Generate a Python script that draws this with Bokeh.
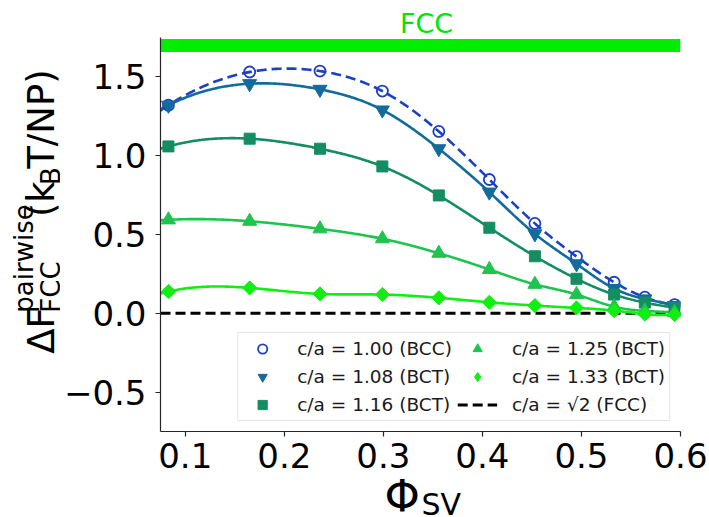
import numpy as np
from bokeh.plotting import figure
from bokeh.models import Label, Legend, LegendItem, FixedTicker, Range1d
from bokeh.layouts import column, row
from bokeh.embed import file_html
from bokeh.resources import INLINE

# ---------------- data ----------------
phi = [0.083, 0.165, 0.236, 0.299, 0.356, 0.407, 0.453, 0.495, 0.533, 0.564, 0.594]
dF_100 = [1.320, 1.531, 1.537, 1.410, 1.154, 0.849, 0.570, 0.360, 0.197, 0.102, 0.055]
dF_108 = [1.320, 1.457, 1.421, 1.290, 1.044, 0.769, 0.504, 0.314, 0.157, 0.091, 0.049]
dF_116 = [1.059, 1.108, 1.044, 0.932, 0.748, 0.543, 0.362, 0.219, 0.119, 0.068, 0.036]
dF_125 = [0.593, 0.584, 0.536, 0.473, 0.381, 0.278, 0.184, 0.119, 0.042, 0.015, 0.005]
dF_133 = [0.138, 0.161, 0.123, 0.119, 0.098, 0.070, 0.049, 0.034, 0.017, -0.005, -0.008]
fcc_ref = [0.0, 0.0]
fcc_phi = [0.075, 0.6]
fcc_band_y = 1.70

series_labels = ["c/a = 1.00 (BCC)", "c/a = 1.08 (BCT)", "c/a = 1.16 (BCT)",
                 "c/a = 1.25 (BCT)", "c/a = 1.33 (BCT)"]
fcc_label = "c/a = \u221a2 (FCC)"

x_ticks = [0.1, 0.2, 0.3, 0.4, 0.5, 0.6]
x_tick_labels = ["0.1", "0.2", "0.3", "0.4", "0.5", "0.6"]
y_ticks = [-0.5, 0.0, 0.5, 1.0, 1.5]
y_tick_labels = ["\u22120.5", "0.0", "0.5", "1.0", "1.5"]


def spline(xk, yk, xs):
    """not-a-knot cubic spline through the data points (with end extrapolation)"""
    xk = np.asarray(xk, float)
    yk = np.asarray(yk, float)
    n = len(xk) - 1
    h = np.diff(xk)
    A = np.zeros((n + 1, n + 1))
    b = np.zeros(n + 1)
    A[0, 0], A[0, 1], A[0, 2] = h[1], -(h[0] + h[1]), h[0]
    A[n, n - 2], A[n, n - 1], A[n, n] = h[n - 1], -(h[n - 2] + h[n - 1]), h[n - 2]
    for i in range(1, n):
        A[i, i - 1] = h[i - 1]
        A[i, i] = 2 * (h[i - 1] + h[i])
        A[i, i + 1] = h[i]
        b[i] = 6 * ((yk[i + 1] - yk[i]) / h[i] - (yk[i] - yk[i - 1]) / h[i - 1])
    M = np.linalg.solve(A, b)
    idx = np.clip(np.searchsorted(xk, xs) - 1, 0, n - 1)
    x0 = xk[idx]
    x1 = xk[idx + 1]
    hh = x1 - x0
    return (M[idx] * (x1 - xs) ** 3 / (6 * hh) + M[idx + 1] * (xs - x0) ** 3 / (6 * hh)
            + (yk[idx] / hh - M[idx] * hh / 6) * (x1 - xs)
            + (yk[idx + 1] / hh - M[idx + 1] * hh / 6) * (xs - x0))


FONT = "DejaVu Sans"


def blank(w, h):
    f = figure(width=w, height=h, x_range=Range1d(0, w), y_range=Range1d(0, h),
               output_backend="svg", toolbar_location=None,
               x_axis_location=None, y_axis_location=None, min_border=0)
    f.outline_line_color = None
    for g in f.grid:
        g.visible = False
    return f


def txt(fig, x, y, text, size, color="black", angle=0.0, align="left"):
    fig.add_layout(Label(x=x, y=y, text=text, angle=angle, text_font=FONT,
                         text_font_size=size, text_align=align,
                         text_baseline="middle", text_color=color))


# ---------------- main plot ----------------
p = figure(width=649, height=441, output_backend="svg", toolbar_location=None,
           x_range=Range1d(0.075, 0.6), y_range=Range1d(-0.75, 1.75),
           min_border_left=100, min_border_right=29, min_border_top=0,
           min_border_bottom=47)
p.outline_line_color = None
p.xgrid.visible = False
p.ygrid.visible = False

for ax in (p.xaxis[0], p.yaxis[0]):
    ax.axis_line_color = "#262626"
    ax.axis_line_width = 1.2
    ax.major_tick_line_color = "#262626"
    ax.major_tick_line_width = 1.2
    ax.major_tick_out = 5
    ax.major_tick_in = 0
    ax.minor_tick_line_color = None
    ax.major_label_text_font = FONT
    ax.major_label_text_font_size = "34px"
    ax.major_label_text_color = "black"
p.xaxis.ticker = FixedTicker(ticks=x_ticks)
p.xaxis.major_label_overrides = dict(zip(x_ticks, x_tick_labels))
p.xaxis.major_label_standoff = 6
p.yaxis.ticker = FixedTicker(ticks=y_ticks)
p.yaxis.major_label_overrides = dict(zip(y_ticks, y_tick_labels))
p.yaxis.major_label_standoff = 9

# FCC band at the top
p.line(fcc_phi, [fcc_band_y, fcc_band_y], line_color="#00ee00", line_width=13,
       line_cap="butt")

# reference line
r_fcc = p.line(fcc_phi, fcc_ref, line_color="black", line_width=3, line_dash="10 5")

xs = np.linspace(0.075, 0.6, 400)
colors = ["#1c3fc4", "#136b9b", "#148d62", "#1fc44e", "#11ee11"]
series = [dF_100, dF_108, dF_116, dF_125, dF_133]
markers = ["circle", "inverted_triangle", "square", "triangle", "square"]
sizes = [11, 14, 11, 14, 10]
angles = [0, 0, 0, 0, np.pi / 4]

for k, (ys, c) in enumerate(zip(series, colors)):
    curve = spline(phi, ys, xs)
    p.line(xs, curve, line_color=c, line_width=2.6,
           line_dash="10 5" if k == 0 else "solid")

# diamond-shaped points used for the legend entry (fully covered by the rotated squares)
diamond_legend = p.scatter(phi, dF_133, marker="diamond", size=11,
                           fill_color=colors[4], line_color=colors[4])

pt_renderers = []
for k, (ys, c) in enumerate(zip(series, colors)):
    if k == 0:
        r = p.scatter(phi, ys, marker="circle", size=sizes[k], fill_color=None,
                      line_color=c, line_width=1.8)
    else:
        r = p.scatter(phi, ys, marker=markers[k], size=sizes[k], angle=angles[k],
                      fill_color=c, line_color=c, line_width=1)
    pt_renderers.append(r)

legend_renderers = pt_renderers[:4] + [diamond_legend]
items = [LegendItem(label=l, renderers=[r]) for l, r in zip(series_labels, legend_renderers)]
items.append(LegendItem(label=fcc_label, renderers=[r_fcc]))
legend = Legend(items=items, location="bottom_right", orientation="vertical", ncols=2)
legend.label_text_font = FONT
legend.label_text_font_size = "18.5px"
legend.label_text_color = "#1a1a1a"
legend.glyph_width = 40
legend.glyph_height = 23
legend.label_height = 23
legend.label_standoff = 15
legend.spacing = 5
legend.padding = 4
legend.margin = 10
legend.border_line_color = "#cccccc"
legend.border_line_width = 1
legend.background_fill_alpha = 0.85
p.add_layout(legend)

# ---------------- y-axis label strip (page x 0..60, page y 37..478) ----------------
L = blank(60, 441)
R90 = np.pi / 2
txt(L, 41, 478 - 391, "\u0394F", "37px", angle=R90)
txt(L, 23, 478 - 345, "pairwise", "26px", angle=R90)
txt(L, 50.5, 478 - 345, "FCC", "26px", angle=R90)
txt(L, 41, 478 - 238, "(k", "37px", angle=R90)
txt(L, 50.5, 478 - 202, "B", "26px", angle=R90)
txt(L, 41, 478 - 184, "T/NP)", "37px", angle=R90)

# ---------------- top strip with the phase name (page y 0..37) ----------------
T = blank(709, 37)
txt(T, 426, 37 - 23, "FCC", "27px", color="#00e600", align="center")

# ---------------- x-axis label strip (page y 478..517) ----------------
B = blank(709, 39)
txt(B, 384, 517 - 495.5, "\u03a6", "45px")
txt(B, 421, 517 - 503.5, "SV", "30px")

layout = column(T, row(L, p), B)
open("out.html", "w").write(file_html(layout, INLINE))
